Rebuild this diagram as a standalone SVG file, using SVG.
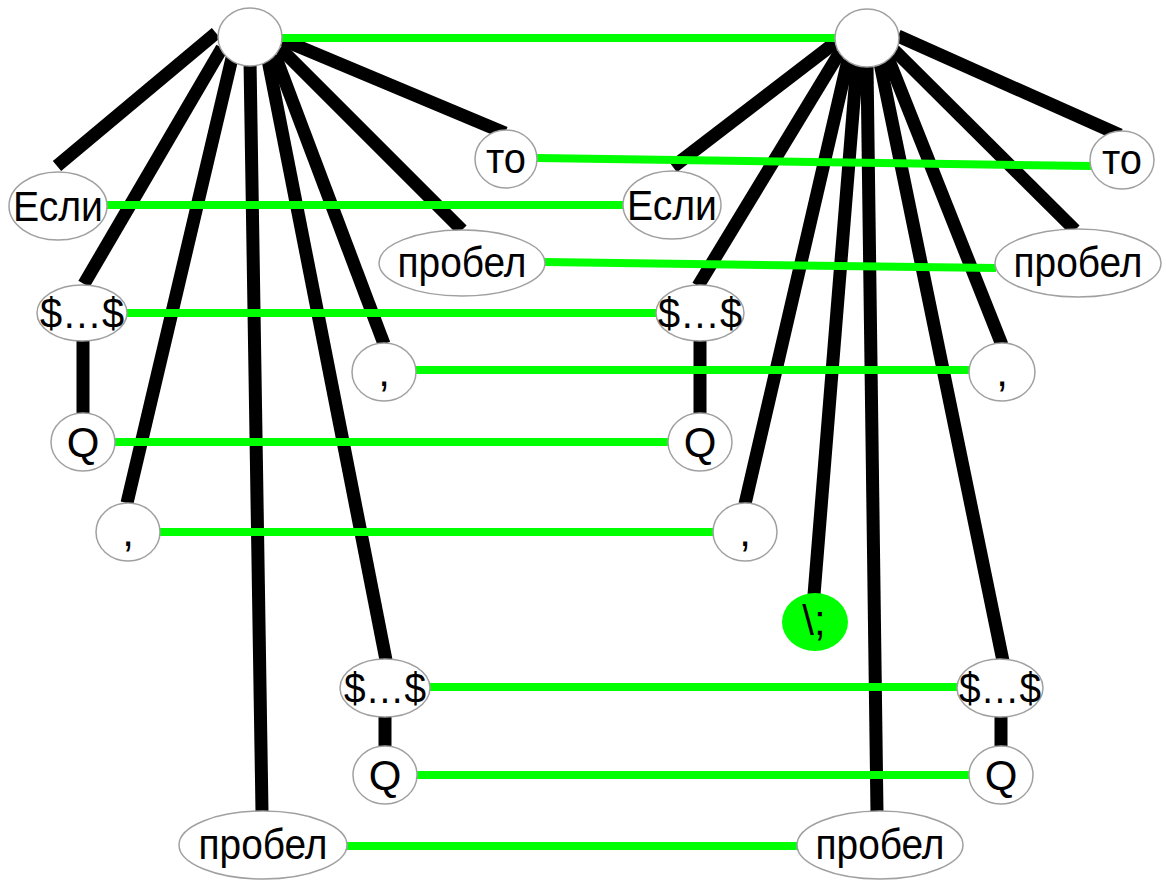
<svg xmlns="http://www.w3.org/2000/svg" width="1166" height="880" viewBox="0 0 1166 880">
<style>
.e{stroke:#000;stroke-width:13;fill:none;stroke-linecap:butt}
.g{stroke:#00ff00;stroke-width:8;fill:none}
.n{fill:#fff;stroke:#a0a0a0;stroke-width:1.5}
.gn{fill:#00ff00;stroke:none}
text{font-family:"Liberation Sans",Arial,sans-serif;font-size:42px;fill:#000;text-anchor:middle}
</style>
<rect width="1166" height="880" fill="#fff"/>
<g id="connectors">
<g id="tree-edges">
<line class="e" x1="216" y1="33" x2="57" y2="166"/>
<line class="e" x1="222" y1="48" x2="84" y2="284"/>
<line class="e" x1="232" y1="58" x2="127" y2="503"/>
<line class="e" x1="250" y1="60" x2="262" y2="812"/>
<line class="e" x1="268" y1="60" x2="386" y2="660"/>
<line class="e" x1="275" y1="55" x2="384" y2="344"/>
<line class="e" x1="280" y1="48" x2="462" y2="230"/>
<line class="e" x1="283" y1="40" x2="505" y2="133"/>
<line class="e" x1="83" y1="330" x2="83" y2="420"/>
<line class="e" x1="385" y1="705" x2="385" y2="755"/>
<line class="e" x1="836" y1="42" x2="673" y2="167"/>
<line class="e" x1="840" y1="52" x2="698" y2="286"/>
<line class="e" x1="848" y1="60" x2="745" y2="504"/>
<line class="e" x1="857" y1="63" x2="814" y2="595"/>
<line class="e" x1="867" y1="65" x2="877" y2="813"/>
<line class="e" x1="880" y1="63" x2="1003" y2="661"/>
<line class="e" x1="888" y1="58" x2="1002" y2="345"/>
<line class="e" x1="894" y1="50" x2="1075" y2="230"/>
<line class="e" x1="898" y1="36" x2="1120" y2="135"/>
<line class="e" x1="700" y1="330" x2="700" y2="420"/>
<line class="e" x1="1001" y1="705" x2="1001" y2="755"/>
</g>
<g id="match-edges">
<line class="g" x1="282" y1="38" x2="835" y2="38"/>
<line class="g" x1="537" y1="158" x2="1091" y2="166"/>
<line class="g" x1="106" y1="205" x2="624" y2="205"/>
<line class="g" x1="545" y1="262" x2="996" y2="268"/>
<line class="g" x1="127" y1="313" x2="657" y2="313"/>
<line class="g" x1="416" y1="370" x2="970" y2="370"/>
<line class="g" x1="115" y1="442" x2="668" y2="442"/>
<line class="g" x1="160" y1="532" x2="713" y2="532"/>
<line class="g" x1="430" y1="687" x2="957" y2="687"/>
<line class="g" x1="417" y1="775" x2="969" y2="775"/>
<line class="g" x1="346" y1="846" x2="797" y2="846"/>
</g>
</g>
<g id="L-root"><ellipse class="n" cx="250" cy="37" rx="32" ry="29"/></g>
<g id="L-esli"><ellipse class="n" cx="58" cy="206" rx="49" ry="34"/><text x="58" y="221" textLength="90" lengthAdjust="spacingAndGlyphs">Если</text></g>
<g id="L-to"><ellipse class="n" cx="506" cy="159" rx="31" ry="29"/><text x="506" y="173" textLength="40" lengthAdjust="spacingAndGlyphs">то</text></g>
<g id="L-probel1"><ellipse class="n" cx="462" cy="263" rx="83" ry="33"/><text x="462" y="277" textLength="129" lengthAdjust="spacingAndGlyphs">пробел</text></g>
<g id="L-dol1"><ellipse class="n" cx="82" cy="313" rx="45" ry="28"/><text x="82" y="328" textLength="84" lengthAdjust="spacingAndGlyphs">$…$</text></g>
<g id="L-Q1"><ellipse class="n" cx="83" cy="442" rx="32" ry="29"/><text x="83" y="457">Q</text></g>
<g id="L-comma1"><ellipse class="n" cx="384" cy="372" rx="32" ry="29"/><text x="384" y="386">,</text></g>
<g id="L-comma2"><ellipse class="n" cx="128" cy="532" rx="32" ry="29"/><text x="128" y="546">,</text></g>
<g id="L-dol2"><ellipse class="n" cx="385" cy="688" rx="45" ry="29"/><text x="385" y="703" textLength="82" lengthAdjust="spacingAndGlyphs">$…$</text></g>
<g id="L-Q2"><ellipse class="n" cx="385" cy="775" rx="32" ry="29"/><text x="385" y="790">Q</text></g>
<g id="L-probel2"><ellipse class="n" cx="263" cy="845" rx="84" ry="34"/><text x="263" y="859" textLength="129" lengthAdjust="spacingAndGlyphs">пробел</text></g>
<g id="R-root"><ellipse class="n" cx="867" cy="38" rx="32" ry="29"/></g>
<g id="R-esli"><ellipse class="n" cx="672" cy="205" rx="49" ry="34"/><text x="672" y="220" textLength="90" lengthAdjust="spacingAndGlyphs">Если</text></g>
<g id="R-to"><ellipse class="n" cx="1122" cy="160" rx="32" ry="29"/><text x="1122" y="174" textLength="40" lengthAdjust="spacingAndGlyphs">то</text></g>
<g id="R-probel1"><ellipse class="n" cx="1078" cy="263" rx="83" ry="34"/><text x="1078" y="277" textLength="129" lengthAdjust="spacingAndGlyphs">пробел</text></g>
<g id="R-dol1"><ellipse class="n" cx="700" cy="313" rx="44" ry="28"/><text x="700" y="328" textLength="84" lengthAdjust="spacingAndGlyphs">$…$</text></g>
<g id="R-Q1"><ellipse class="n" cx="700" cy="442" rx="32" ry="29"/><text x="700" y="457">Q</text></g>
<g id="R-comma1"><ellipse class="n" cx="1002" cy="372" rx="33" ry="29"/><text x="1002" y="386">,</text></g>
<g id="R-comma2"><ellipse class="n" cx="745" cy="532" rx="32" ry="29"/><text x="745" y="546">,</text></g>
<g id="R-semi"><ellipse class="gn" cx="815" cy="622" rx="33" ry="29"/><text x="814" y="635">\;</text></g>
<g id="R-dol2"><ellipse class="n" cx="1000" cy="688" rx="43" ry="29"/><text x="1000" y="703" textLength="82" lengthAdjust="spacingAndGlyphs">$…$</text></g>
<g id="R-Q2"><ellipse class="n" cx="1001" cy="775" rx="32" ry="29"/><text x="1001" y="790">Q</text></g>
<g id="R-probel2"><ellipse class="n" cx="880" cy="845" rx="83" ry="34"/><text x="880" y="859" textLength="129" lengthAdjust="spacingAndGlyphs">пробел</text></g>
</svg>
